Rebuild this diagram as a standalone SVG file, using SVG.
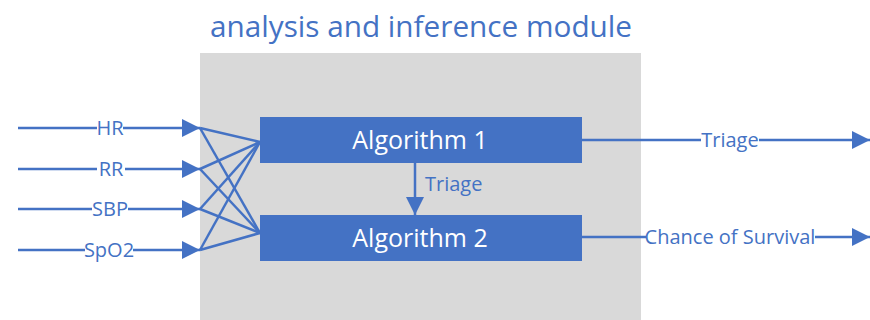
<svg xmlns="http://www.w3.org/2000/svg" width="870" height="320" viewBox="0 0 870 320">
  <style>
    .lbl { font-family: "Open Sans", "Noto Sans", sans-serif; fill: #4472C4; }
    .box { fill: #4472C4; }
    .boxtxt { font-family: "Open Sans", "Noto Sans", sans-serif; fill: #FFFFFF; font-size: 25px; text-anchor: middle; }
    .wire { stroke: #4472C4; stroke-width: 2.5; fill: none; }
    .mid { text-anchor: middle; font-size: 20px; }
    .gap { fill: #FFFFFF; }
  </style>
  <defs>
    <marker id="arrow" viewBox="0 0 10 10" refX="10" refY="5" markerUnits="userSpaceOnUse" markerWidth="19" markerHeight="18" orient="auto">
      <path d="M0,0 L10,5 L0,10 Z" fill="#4472C4"/>
    </marker>
  </defs>
  <rect width="870" height="320" fill="#FFFFFF"/>

  <!-- module panel -->
  <g id="module">
    <rect x="200" y="53" width="441" height="267" fill="#D9D9D9"/>
    <text class="lbl" x="421" y="37" font-size="30" text-anchor="middle" textLength="422" lengthAdjust="spacingAndGlyphs">analysis and inference module</text>
  </g>

  <!-- connectors -->
  <g id="connectors">
    <line class="wire" x1="18" y1="128" x2="200" y2="128" marker-end="url(#arrow)"/>
    <line class="wire" x1="18" y1="169" x2="200" y2="169" marker-end="url(#arrow)"/>
    <line class="wire" x1="18" y1="209" x2="200" y2="209" marker-end="url(#arrow)"/>
    <line class="wire" x1="18" y1="250" x2="200" y2="250" marker-end="url(#arrow)"/>

    <line class="wire" x1="200" y1="128" x2="260" y2="142"/>
    <line class="wire" x1="200" y1="169" x2="260" y2="142"/>
    <line class="wire" x1="200" y1="209" x2="260" y2="142"/>
    <line class="wire" x1="200" y1="250" x2="260" y2="142"/>
    <line class="wire" x1="200" y1="128" x2="260" y2="233"/>
    <line class="wire" x1="200" y1="169" x2="260" y2="233"/>
    <line class="wire" x1="200" y1="209" x2="260" y2="233"/>
    <line class="wire" x1="200" y1="250" x2="260" y2="233"/>

    <line class="wire" x1="415" y1="163" x2="415" y2="215" marker-end="url(#arrow)"/>
    <line class="wire" x1="582" y1="140" x2="870" y2="140" marker-end="url(#arrow)"/>
    <line class="wire" x1="582" y1="237" x2="870" y2="237" marker-end="url(#arrow)"/>
  </g>

  <!-- input labels -->
  <g id="in-hr">
    <rect class="gap" x="97" y="117" width="26" height="22"/>
    <text class="lbl mid" x="110" y="135">HR</text>
  </g>
  <g id="in-rr">
    <rect class="gap" x="97" y="158" width="28" height="22"/>
    <text class="lbl mid" x="111" y="176">RR</text>
  </g>
  <g id="in-sbp">
    <rect class="gap" x="92" y="198" width="36" height="22"/>
    <text class="lbl mid" x="110" y="216">SBP</text>
  </g>
  <g id="in-spo2">
    <rect class="gap" x="85" y="239" width="48" height="22"/>
    <text class="lbl mid" x="109" y="257">SpO2</text>
  </g>

  <!-- algorithms -->
  <g id="algorithm1">
    <rect class="box" x="260" y="117" width="322" height="46"/>
    <text class="boxtxt" x="420" y="149">Algorithm 1</text>
  </g>
  <g id="algorithm2">
    <rect class="box" x="260" y="215" width="322" height="46"/>
    <text class="boxtxt" x="420" y="247">Algorithm 2</text>
  </g>

  <g id="triage-link">
    <text class="lbl" x="425" y="191" font-size="20">Triage</text>
  </g>

  <!-- outputs -->
  <g id="out-triage">
    <rect class="gap" x="701" y="129" width="58" height="22"/>
    <text class="lbl mid" x="730" y="147">Triage</text>
  </g>
  <g id="out-survival">
    <rect class="gap" x="646" y="226" width="169" height="22"/>
    <text class="lbl mid" x="730" y="244">Chance of Survival</text>
  </g>
</svg>
